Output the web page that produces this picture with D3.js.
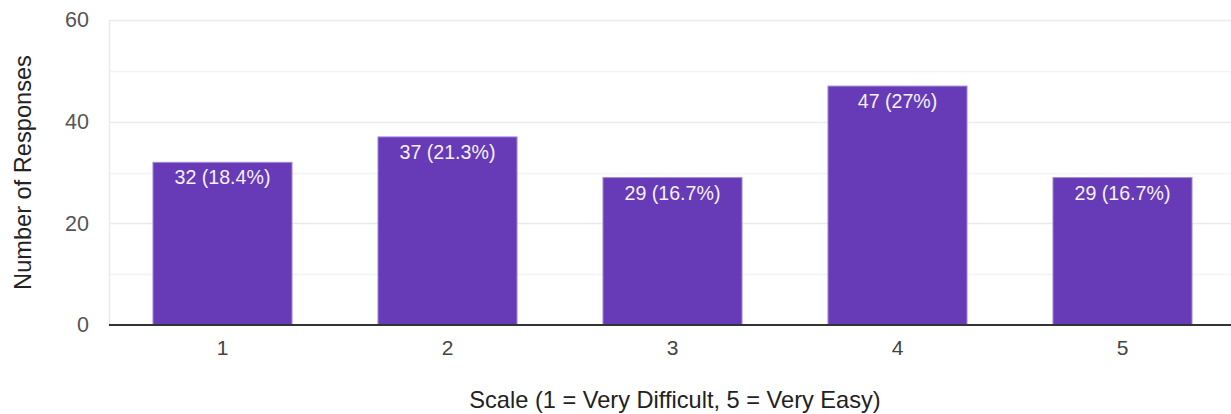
<!DOCTYPE html>
<html>
<head>
<meta charset="utf-8">
<script src="https://cdn.jsdelivr.net/npm/d3@7"></script>
<style>
  html, body { margin: 0; padding: 0; background: #fff; }
  svg { display: block; font-family: "Liberation Sans", Arial, sans-serif; }
</style>
</head>
<body>
<svg id="chart" width="1231" height="414"></svg>
<script>
// Survey responses per rating on a 1–5 ease scale
const categories = ["1", "2", "3", "4", "5"];
const counts = [32, 37, 29, 47, 29];
const percentLabels = ["18.4%", "21.3%", "16.7%", "27%", "16.7%"];
const yTicks = [0, 20, 40, 60];
const yGrid = [10, 20, 30, 40, 50, 60];

const svg = d3.select("#chart");
const W = 1231, H = 414;
const plot = { left: 110, right: 1235, top: 20, bottom: 325 };

const x = d3.scaleBand()
  .domain(categories)
  .range([plot.left, plot.right])
  .paddingInner(0.382)
  .paddingOuter(0.191);

const y = d3.scaleLinear()
  .domain([0, 60])
  .range([plot.bottom, plot.top]);

// Gridlines (major every 20, minor in between)
svg.append("g").selectAll("line")
  .data(yGrid)
  .join("line")
  .attr("x1", plot.left - 1)
  .attr("x2", W)
  .attr("y1", d => Math.round(y(d)) + 0.5)
  .attr("y2", d => Math.round(y(d)) + 0.5)
  .attr("stroke", d => d % 20 === 0 ? "#ebebeb" : "#f3f3f3")
  .attr("stroke-width", 1.5);

// Left frame line of the plot area
svg.append("line")
  .attr("x1", plot.left - 0.5).attr("x2", plot.left - 0.5)
  .attr("y1", y(60)).attr("y2", y(0))
  .attr("stroke", "#ebebeb").attr("stroke-width", 1.5);

// Bars
svg.append("g").selectAll("rect")
  .data(counts)
  .join("rect")
  .attr("x", (d, i) => x(categories[i]))
  .attr("width", x.bandwidth())
  .attr("y", d => y(d))
  .attr("height", d => y(0) - y(d))
  .attr("fill", "#673ab7")
  .attr("stroke", "#a58ad6")
  .attr("stroke-width", 1);

// Value labels inside bar tops
svg.append("g").selectAll("text")
  .data(counts)
  .join("text")
  .attr("x", (d, i) => x(categories[i]) + x.bandwidth() / 2)
  .attr("y", d => y(d) + 22)
  .attr("text-anchor", "middle")
  .attr("fill", "#f4f1fa")
  .style("font-size", "19.6px")
  .text((d, i) => `${d} (${percentLabels[i]})`);

// Baseline
svg.append("line")
  .attr("x1", plot.left - 1).attr("x2", W)
  .attr("y1", y(0)).attr("y2", y(0))
  .attr("stroke", "#333").attr("stroke-width", 2);

// Y axis tick labels
const yAxis = d3.axisLeft(y).tickValues(yTicks).tickSize(0).tickPadding(21);
const gy = svg.append("g")
  .attr("transform", `translate(${plot.left},0)`)
  .call(yAxis);
gy.select(".domain").remove();
gy.selectAll("text")
  .attr("fill", "#555")
  .style("font-size", "21.5px")
  .style("font-family", "'Liberation Sans', Arial, sans-serif");

// X axis tick labels
const xAxis = d3.axisBottom(x).tickSize(0).tickPadding(15);
const gx = svg.append("g")
  .attr("transform", `translate(0,${y(0)})`)
  .call(xAxis);
gx.select(".domain").remove();
gx.selectAll("text")
  .attr("fill", "#444")
  .style("font-size", "21px")
  .style("font-family", "'Liberation Sans', Arial, sans-serif");

// Axis titles
svg.append("text")
  .attr("x", 675)
  .attr("y", 408)
  .attr("text-anchor", "middle")
  .attr("fill", "#222")
  .style("font-size", "23.6px")
  .text("Scale (1 = Very Difficult, 5 = Very Easy)");

svg.append("text")
  .attr("transform", `translate(30.5,${(y(0) + y(60)) / 2}) rotate(-90)`)
  .attr("text-anchor", "middle")
  .attr("fill", "#222")
  .style("font-size", "23.6px")
  .text("Number of Responses");
</script>
</body>
</html>
